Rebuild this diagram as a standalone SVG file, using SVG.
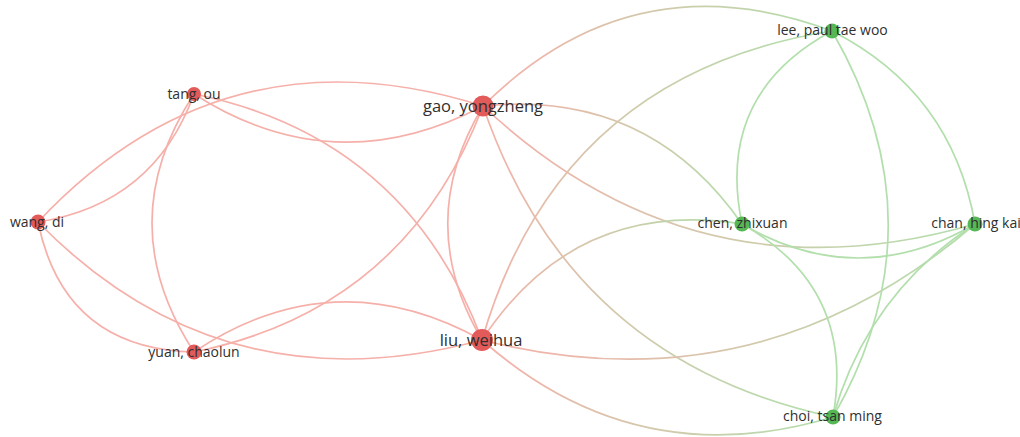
<svg xmlns="http://www.w3.org/2000/svg" width="1020" height="437" viewBox="0 0 1020 437">
<style>
.e{fill:none;stroke-width:1.7;}
.r{stroke:#f6b0aa;}
.g{stroke:#b2dfac;}
.nr{fill:#e35a5a;}
.ng{fill:#55b855;}
.t{font-family:"Open Sans","Liberation Sans",sans-serif;fill:#2f2f2f;text-anchor:middle;font-size:14px;}
.tl{font-size:16.5px;}
</style>
<defs>
<linearGradient id="m1" gradientUnits="userSpaceOnUse" x1="483" y1="106" x2="832" y2="31"><stop offset="0" stop-color="#f6b0aa"/><stop offset="1" stop-color="#b2dfac"/></linearGradient>
<linearGradient id="m2" gradientUnits="userSpaceOnUse" x1="483" y1="106" x2="742" y2="224"><stop offset="0" stop-color="#f6b0aa"/><stop offset="1" stop-color="#b2dfac"/></linearGradient>
<linearGradient id="m3" gradientUnits="userSpaceOnUse" x1="483" y1="106" x2="975" y2="224"><stop offset="0" stop-color="#f6b0aa"/><stop offset="1" stop-color="#b2dfac"/></linearGradient>
<linearGradient id="m4" gradientUnits="userSpaceOnUse" x1="483" y1="106" x2="833" y2="417"><stop offset="0" stop-color="#f6b0aa"/><stop offset="1" stop-color="#b2dfac"/></linearGradient>
<linearGradient id="m5" gradientUnits="userSpaceOnUse" x1="482" y1="340" x2="832" y2="31"><stop offset="0" stop-color="#f6b0aa"/><stop offset="1" stop-color="#b2dfac"/></linearGradient>
<linearGradient id="m6" gradientUnits="userSpaceOnUse" x1="482" y1="340" x2="742" y2="224"><stop offset="0" stop-color="#f6b0aa"/><stop offset="1" stop-color="#b2dfac"/></linearGradient>
<linearGradient id="m7" gradientUnits="userSpaceOnUse" x1="482" y1="340" x2="975" y2="224"><stop offset="0" stop-color="#f6b0aa"/><stop offset="1" stop-color="#b2dfac"/></linearGradient>
<linearGradient id="m8" gradientUnits="userSpaceOnUse" x1="482" y1="340" x2="833" y2="417"><stop offset="0" stop-color="#f6b0aa"/><stop offset="1" stop-color="#b2dfac"/></linearGradient>
</defs>
<rect width="1020" height="437" fill="#ffffff"/>
<g id="connectors">
<path class="e r" d="M38,222 Q154,204 194,94"/>
<path class="e r" d="M38,222 Q224,24 483,106"/>
<path class="e r" d="M38,222 Q64,349 194,352"/>
<path class="e r" d="M38,222 Q222,410 482,340"/>
<path class="e r" d="M194,94 Q334,184 483,106"/>
<path class="e r" d="M194,94 Q406,137 482,340"/>
<path class="e r" d="M194,94 Q110,223 194,352"/>
<path class="e r" d="M483,106 Q406,309 194,352"/>
<path class="e r" d="M483,106 Q413,223 482,340"/>
<path class="e r" d="M194,352 Q334,258 482,340"/>
<path class="e" stroke="url(#m1)" d="M483,106 Q633,-43 832,31"/>
<path class="e" stroke="url(#m2)" d="M483,106 Q648,89 742,224"/>
<path class="e" stroke="url(#m3)" d="M483,106 Q695,305 975,224"/>
<path class="e" stroke="url(#m4)" d="M483,106 Q570,361 833,417"/>
<path class="e" stroke="url(#m5)" d="M482,340 Q559,74 832,31"/>
<path class="e" stroke="url(#m6)" d="M482,340 Q575,198 742,224"/>
<path class="e" stroke="url(#m7)" d="M482,340 Q759,410 975,224"/>
<path class="e" stroke="url(#m8)" d="M482,340 Q636,476 833,417"/>
<path class="e g" d="M832,31 Q715,94 742,224"/>
<path class="e g" d="M832,31 Q952,92 975,224"/>
<path class="e g" d="M832,31 Q944,224 833,417"/>
<path class="e g" d="M742,224 Q858,292 975,224"/>
<path class="e g" d="M742,224 Q856,288 833,417"/>
<path class="e g" d="M975,224 Q868,294 833,417"/>
</g>
<g id="n-tang"><circle class="nr" cx="194" cy="94" r="7"/><text class="t" x="194" y="98.5">tang, ou</text></g>
<g id="n-wang"><circle class="nr" cx="38" cy="222" r="7.5"/><text class="t" x="37" y="226.5">wang, di</text></g>
<g id="n-yuan"><circle class="nr" cx="194" cy="352" r="7.5"/><text class="t" x="194" y="356.5">yuan, chaolun</text></g>
<g id="n-gao"><circle class="nr" cx="483" cy="106" r="10.5"/><text class="t tl" x="483" y="112">gao, yongzheng</text></g>
<g id="n-liu"><circle class="nr" cx="482" cy="340" r="11"/><text class="t tl" x="481" y="345.5">liu, weihua</text></g>
<g id="n-lee"><circle class="ng" cx="832" cy="31" r="7.5"/><text class="t" x="832.5" y="34.5">lee, paul tae woo</text></g>
<g id="n-chen"><circle class="ng" cx="742" cy="224" r="7.5"/><text class="t" x="742.5" y="227.5">chen, zhixuan</text></g>
<g id="n-chan"><circle class="ng" cx="975" cy="224" r="7.5"/><text class="t" x="976" y="227.5">chan, hing kai</text></g>
<g id="n-choi"><circle class="ng" cx="833" cy="417" r="7.5"/><text class="t" x="832.5" y="420.5">choi, tsan ming</text></g>
</svg>
